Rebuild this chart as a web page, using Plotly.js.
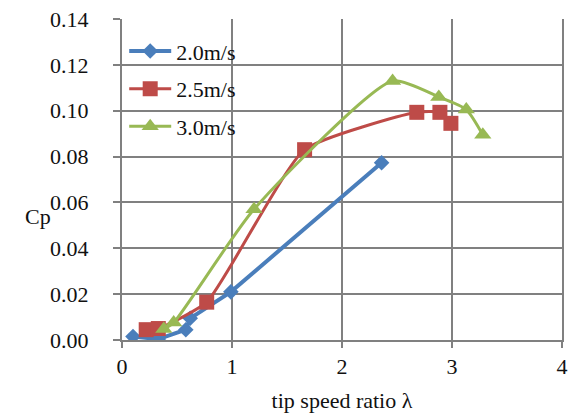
<!DOCTYPE html>
<html>
<head>
<meta charset="utf-8">
<script src="https://cdn.plot.ly/plotly-3.0.1.min.js"></script>
<style>html,body{margin:0;padding:0;background:#fff;}#chart{width:571px;height:413px;}</style>
</head>
<body>
<div id="chart"></div>
<script>
var seriesNames = ["2.0m/s", "2.5m/s", "3.0m/s"];
var x20 = [0.10, 0.33, 0.58, 0.62, 0.99, 2.36];
var y20 = [0.0015, 0.0004, 0.0045, 0.0095, 0.021, 0.0773];
var x25 = [0.22, 0.33, 0.77, 1.66, 2.68, 2.89, 2.99];
var y25 = [0.0045, 0.005, 0.0165, 0.083, 0.0993, 0.0993, 0.0945];
var x30 = [0.38, 0.47, 1.20, 2.46, 2.88, 3.13, 3.28];
var y30 = [0.0048, 0.0076, 0.057, 0.113, 0.106, 0.1005, 0.0895];
var xTicks = [0, 1, 2, 3, 4];
var yTicks = [0, 0.02, 0.04, 0.06, 0.08, 0.10, 0.12, 0.14];

var font = "Liberation Serif, Times New Roman, serif";
var traces = [
  {x: x20, y: y20, name: seriesNames[0], mode: "lines+markers", legendgroup: "a",
   line: {color: "#4a7ebb", width: 4}, marker: {symbol: "diamond", size: 12, color: "#4a7ebb"}},
  {x: x25, y: y25, name: seriesNames[1], mode: "lines+markers", legendgroup: "b",
   line: {color: "#be4b48", width: 3, shape: "spline", smoothing: 0.5}, marker: {symbol: "square", size: 15, color: "#be4b48"}},
  {x: x30, y: y30, name: seriesNames[2], mode: "lines+markers", legendgroup: "c",
   line: {color: "#98b954", width: 3, shape: "spline", smoothing: 0.6}, marker: {symbol: "triangle-up", size: 15, color: "#98b954"}}
];
var layout = {
  width: 571, height: 413,
  margin: {l: 122, r: 9, t: 19, b: 73},
  paper_bgcolor: "#fff", plot_bgcolor: "#fff",
  font: {family: font, size: 22, color: "#111"},
  showlegend: true,
  legend: {x: 0.005, y: 0.965, xanchor: "left", yanchor: "top", bgcolor: "rgba(0,0,0,0)",
           font: {family: font, size: 22, color: "#111"}, tracegroupgap: 6, itemwidth: 42},
  xaxis: {range: [0, 4], tickvals: xTicks, ticktext: xTicks.map(String),
          showgrid: true, gridcolor: "#808080", gridwidth: 2, zeroline: false,
          showline: true, linecolor: "#808080", linewidth: 2,
          ticks: "outside", ticklen: 6, tickcolor: "#808080", tickwidth: 2,
          ticklabeloverflow: "allow",
          tickfont: {family: font, size: 22, color: "#111"},
          title: {text: "tip speed ratio λ", font: {family: font, size: 22, color: "#111"}, standoff: 16}},
  yaxis: {range: [0, 0.14], tickvals: yTicks, ticktext: yTicks.map(function(v){return v.toFixed(2);}),
          showgrid: true, gridcolor: "#808080", gridwidth: 2, zeroline: false,
          showline: true, mirror: true, linecolor: "#808080", linewidth: 2,
          ticks: "outside", ticklen: 7, tickcolor: "#808080", tickwidth: 2,
          ticklabelstandoff: 20,
          tickfont: {family: font, size: 22, color: "#111"}},
  annotations: [{text: "Cp", xref: "paper", yref: "paper", x: -0.19, y: 0.385, xanchor: "center", yanchor: "middle",
                 showarrow: false, font: {family: font, size: 22, color: "#111"}}]
};
Plotly.newPlot("chart", traces, layout, {staticPlot: true, displayModeBar: false});
</script>
</body>
</html>
